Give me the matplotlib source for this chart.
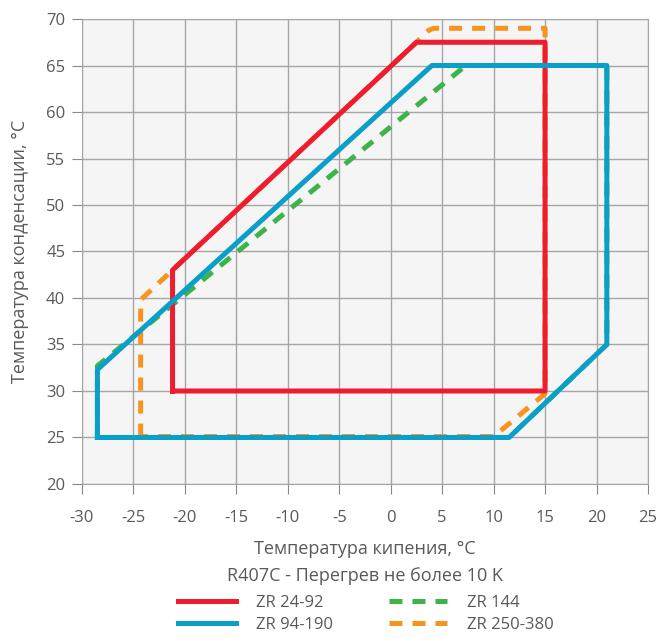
import matplotlib
matplotlib.use("Agg")
import matplotlib.pyplot as plt

plt.rcParams["font.family"] = ["Open Sans", "DejaVu Sans"]
plt.rcParams["axes.unicode_minus"] = False

# Operating envelopes (evaporating temp, condensing temp)
zr24_x = [-21.2, -21.2, 2.5, 15.0, 15.0, -21.2]
zr24_y = [30.0, 43.0, 67.5, 67.5, 30.0, 30.0]

zr94_x = [-28.5, -28.5, 4.0, 21.0, 21.0, 11.5, -28.5]
zr94_y = [25.0, 32.3, 65.0, 65.0, 35.0, 25.0, 25.0]

zr144_x = [-28.5, -28.5, 7.3, 21.0, 21.0, 11.5, -28.5]
zr144_y = [25.0, 32.7, 65.0, 65.0, 35.0, 25.0, 25.0]

zr250_x = [-24.3, -24.3, 2.5, 3.7, 4.2, 15.0, 15.0, 10.0, -24.3]
zr250_y = [25.1, 39.8, 67.5, 68.8, 69.0, 69.0, 29.7, 25.1, 25.1]

RED = "#ee1c2e"
BLUE = "#0a9fc9"
GREEN = "#3cb44a"
ORANGE = "#f7941d"
TXT = "#595959"

fig = plt.figure(figsize=(6.59, 6.38), dpi=100)
ax = fig.add_axes([0.1244, 0.2414, 0.8589, 0.7288])
ax.set_facecolor("#f5f5f5")

lw = 3.6
dash = (2.6, 2.0)
l3, = ax.plot(zr144_x, zr144_y, color=GREEN, lw=lw, dashes=dash, zorder=2, label="ZR 144")
l4, = ax.plot(zr250_x, zr250_y, color=ORANGE, lw=lw, dashes=dash, zorder=2, label="ZR 250-380")
l1, = ax.plot(zr24_x, zr24_y, color=RED, lw=lw, zorder=3, label="ZR 24-92")
l2, = ax.plot(zr94_x, zr94_y, color=BLUE, lw=lw, zorder=4, label="ZR 94-190")

ax.set_xlim(-30, 25)
ax.set_ylim(20, 70)
ax.set_xticks(range(-30, 26, 5))
ax.set_yticks(range(20, 71, 5))
ax.grid(True, color="#a6a6a6", lw=1.0, zorder=0)
ax.set_axisbelow(True)
for s in ax.spines.values():
    s.set_color("#a6a6a6")
ax.tick_params(direction="out", length=7, color="#888888", labelcolor=TXT,
               labelsize=12, pad=12)
ax.tick_params(axis="y", pad=5)

ax.set_xlabel("Температура кипения, °C\nR407C - Перегрев не более 10 K",
              fontsize=13, color=TXT, labelpad=10, linespacing=1.6)
ax.set_ylabel("Температура конденсации, °C", fontsize=13, color=TXT, labelpad=12)

fig.legend(handles=[l1, l2, l3, l4], loc="lower center", ncol=2,
           bbox_to_anchor=(0.555, -0.016), frameon=False, fontsize=12,
           labelcolor=TXT, handlelength=3.45, columnspacing=3.4, handletextpad=1.2,
           labelspacing=0.4)

fig.savefig("out.png", dpi=100)
